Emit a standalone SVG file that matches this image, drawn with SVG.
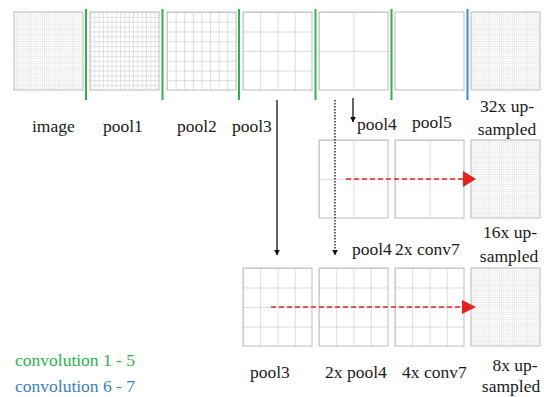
<svg xmlns="http://www.w3.org/2000/svg" width="544" height="397" viewBox="0 0 544 397">
<style>
text{font-size:17.5px;fill:#1a1a1a}
.box{fill:none;stroke:#bdbdbd;stroke-width:1}
.sepg{stroke:#2bb34c;stroke-width:2}
.sepb{stroke:#3a88d4;stroke-width:2}
.red{stroke:#e8201c;stroke-width:1.5;stroke-dasharray:5 3;fill:none}
.blk{stroke:#111;stroke-width:1.3;fill:none}
</style>
<defs>
<pattern id="g2" patternUnits="userSpaceOnUse" width="34.5" height="39"><path d="M0 0V39M0 0H34.5" stroke="#b8b8b8" stroke-width="1" fill="none"/></pattern>
<pattern id="g4" patternUnits="userSpaceOnUse" width="17.25" height="19.5"><path d="M0 0V19.5M0 0H17.25" stroke="#b8b8b8" stroke-width="1" fill="none"/></pattern>
<pattern id="g8" patternUnits="userSpaceOnUse" width="8.625" height="9.75"><path d="M0 0V9.75M0 0H8.625" stroke="#bbbbbb" stroke-width="1" fill="none"/></pattern>
<pattern id="g16" patternUnits="userSpaceOnUse" width="4.3125" height="4.875"><path d="M0 0V4.875M0 0H4.3125" stroke="#c4c4c4" stroke-width="0.9" fill="none"/></pattern>
<pattern id="g32" patternUnits="userSpaceOnUse" width="2.156" height="2.4375"><path d="M0 0V2.4375M0 0H2.156" stroke="#dcdcdc" stroke-width="0.8" fill="none"/></pattern>
<marker id="ah" viewBox="0 0 10 10" refX="9" refY="5" markerWidth="6" markerHeight="6" markerUnits="userSpaceOnUse" orient="auto"><path d="M0 0L10 5L0 10Z" fill="#111"/></marker>
</defs>

<g id="image" transform="translate(14,12)"><rect width="69" height="78" fill="url(#g32)"/><rect class="box" width="69" height="78" stroke="#e0e0e0"/></g>
<g id="pool1" transform="translate(90,12)"><rect width="69" height="78" fill="url(#g16)"/><rect class="box" width="69" height="78"/></g>
<g id="pool2" transform="translate(167,12)"><rect width="69" height="78" fill="url(#g8)"/><rect class="box" width="69" height="78"/></g>
<g id="pool3" transform="translate(243,12)"><rect width="69" height="78" fill="url(#g4)"/><rect class="box" width="69" height="78"/></g>
<g id="pool4" transform="translate(319,12)"><rect width="69" height="78" fill="url(#g2)"/><rect class="box" width="69" height="78"/></g>
<g id="pool5" transform="translate(395,12)"><rect class="box" width="69" height="78"/></g>
<g id="up32" transform="translate(471,12)"><rect width="69" height="78" fill="url(#g32)"/><rect class="box" width="69" height="78" stroke="#e6e6e6"/></g>

<g id="r2-pool4" transform="translate(319,140)"><rect width="69" height="78" fill="url(#g2)"/><rect class="box" width="69" height="78"/></g>
<g id="r2-conv7" transform="translate(395,140)"><rect width="69" height="78" fill="url(#g2)"/><rect class="box" width="69" height="78"/></g>
<g id="up16" transform="translate(471,140)"><rect width="69" height="78" fill="url(#g32)"/><rect class="box" width="69" height="78" stroke="#e6e6e6"/></g>

<g id="r3-pool3" transform="translate(243,268)"><rect width="69" height="78" fill="url(#g4)"/><rect class="box" width="69" height="78"/></g>
<g id="r3-pool4" transform="translate(319,268)"><rect width="69" height="78" fill="url(#g4)"/><rect class="box" width="69" height="78"/></g>
<g id="r3-conv7" transform="translate(395,268)"><rect width="69" height="78" fill="url(#g4)"/><rect class="box" width="69" height="78"/></g>
<g id="up8" transform="translate(471,268)"><rect width="69" height="78" fill="url(#g32)"/><rect class="box" width="69" height="78" stroke="#e6e6e6"/></g>

<g id="separators">
<line class="sepg" x1="86" y1="9" x2="86" y2="100"/>
<line class="sepg" x1="162.5" y1="9" x2="162.5" y2="100"/>
<line class="sepg" x1="239" y1="9" x2="239" y2="100"/>
<line class="sepg" x1="315.5" y1="9" x2="315.5" y2="100"/>
<line class="sepg" x1="391.5" y1="9" x2="391.5" y2="100"/>
<line class="sepb" x1="467.5" y1="9" x2="467.5" y2="100"/>
</g>

<g id="connectors">
<line class="blk" x1="277" y1="100" x2="277" y2="255" marker-end="url(#ah)"/>
<line class="blk" x1="335" y1="100" x2="335" y2="255" stroke-dasharray="1.5 1.5" marker-end="url(#ah)"/>
<line class="blk" x1="353" y1="98" x2="353" y2="122" marker-end="url(#ah)"/>
<line class="red" x1="346" y1="179" x2="464" y2="179"/>
<path d="M463 171L476 179L463 187Z" fill="#e8201c"/>
<line class="red" x1="271" y1="307" x2="463" y2="307"/>
<path d="M462 300L476 307L462 314Z" fill="#e8201c"/>
</g>

<g id="labels" font-family="Liberation Serif, Times New Roman, DejaVu Serif, serif">
<text x="32" y="132">image</text>
<text x="103" y="132">pool1</text>
<text x="177" y="132">pool2</text>
<text x="232" y="132">pool3</text>
<text x="357" y="130">pool4</text>
<text x="412" y="128">pool5</text>
<text x="507" y="112" text-anchor="middle">32x up-</text>
<text x="507" y="135" text-anchor="middle">sampled</text>
<text x="352" y="255">pool4</text>
<text x="395" y="255">2x conv7</text>
<text x="510" y="238" text-anchor="middle">16x up-</text>
<text x="509" y="262" text-anchor="middle">sampled</text>
<text x="250" y="378">pool3</text>
<text x="325" y="378">2x pool4</text>
<text x="402" y="378">4x conv7</text>
<text x="515" y="371" text-anchor="middle">8x up-</text>
<text x="511" y="392" text-anchor="middle">sampled</text>
<text x="15" y="366" fill="#2bb34c" style="fill:#2bb34c">convolution 1 - 5</text>
<text x="15" y="392" fill="#3a80c8" style="fill:#3a80c8">convolution 6 - 7</text>
</g>
</svg>
